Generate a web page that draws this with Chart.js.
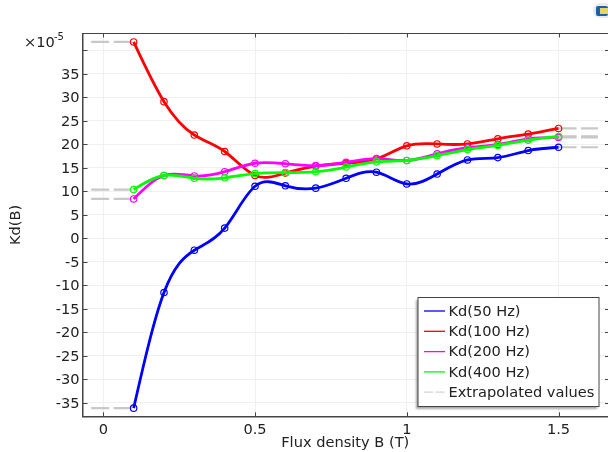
<!DOCTYPE html>
<html>
<head>
<meta charset="utf-8">
<title>Kd(B)</title>
<script src="https://cdn.jsdelivr.net/npm/chart.js@4"></script>
<style>
	html, body { margin: 0; padding: 0; background: #fff; overflow: hidden; }
	canvas { display: block; }
	#icone { position: absolute; left: 593px; top: 3px; width: 15px; height: 15px; border-radius: 8px 0 0 8px; background: #e8eaee; overflow: hidden; }
	#icone div { position: absolute; left: 3px; top: 3px; width: 12px; height: 10px; border-radius: 2px; background: #1f5fa8; }
	#icone span { position: absolute; left: 7px; top: 5px; width: 8px; height: 6px; background: #e8d36a; }
</style>
</head>
<body>
<canvas id="myChart" width="608" height="452"></canvas>
<div id="icone"><div></div><span></span></div>
<script>
const fluxB = [0.1, 0.2, 0.3, 0.4, 0.5, 0.6, 0.7, 0.8, 0.9, 1.0, 1.1, 1.2, 1.3, 1.4, 1.5];

const kd50 = [-36.1, -11.5, -2.5, 2.2, 11.1, 11.2, 10.7, 12.8, 14.1, 11.6, 13.7, 16.7, 17.2, 18.7, 19.4];
const kd100 = [41.8, 29.1, 22.0, 18.5, 13.4, 13.9, 15.4, 16.0, 16.9, 19.7, 20.1, 20.1, 21.2, 22.2, 23.4];
const kd200 = [8.4, 13.4, 13.3, 14.2, 16.0, 15.9, 15.5, 16.2, 17.0, 16.6, 18.0, 19.3, 20.0, 21.2, 21.5];
const kd400 = [10.4, 13.4, 12.8, 12.9, 13.8, 14.0, 14.2, 15.2, 16.3, 16.6, 17.6, 18.9, 19.8, 20.9, 21.7];

const nomes = ['Kd(50 Hz)', 'Kd(100 Hz)', 'Kd(200 Hz)', 'Kd(400 Hz)'];
const cores = ['#0000ff', '#ff0000', '#ff00ff', '#00ff00'];
const series = [kd50, kd100, kd200, kd400];

const extrapX = [-0.04, 0.1, 1.5, 1.63];
const nomeExtrap = 'Extrapolated values';

const xTicks = [0, 0.5, 1, 1.5];
const yTicks = [-35, -30, -25, -20, -15, -10, -5, 0, 5, 10, 15, 20, 25, 30, 35, 40];

const fonte = '"DejaVu Sans"';
const tamanhoFonte = 14.6;
const corTexto = '#222222';
const corEixo = '#444444';

let datasets = [];

series.forEach(function(valores, i) {
	datasets.push({
		label: nomes[i],
		data: fluxB.map(function(b, j) { return { x: b, y: valores[j] }; }),
		borderColor: cores[i],
		borderWidth: 2.8,
		tension: 0.4,
		pointRadius: 3.2,
		pointBorderWidth: 1.2,
		pointBackgroundColor: 'transparent',
		pointBorderColor: cores[i],
		order: 5 - i
	});

	// trechos extrapolados, um de cada lado
	let ultimo = valores.length - 1;
	[[extrapX[0], extrapX[1], valores[0]], [extrapX[2], extrapX[3], valores[ultimo]]].forEach(function(t) {
		datasets.push({
			label: nomeExtrap,
			data: [{ x: t[0], y: t[2] }, { x: t[1], y: t[2] }],
			borderColor: '#c8c8c8',
			borderWidth: 2.2,
			borderDash: [18, 4.5],
			pointRadius: 0,
			order: 6
		});
	});
});

// tangentes do spline cubico natural (pontos igualmente espacados)
function tangentes(v) {
	const n = v.length;
	let c = new Array(n), d = new Array(n), t = new Array(n);
	c[0] = 0.5;
	d[0] = 1.5 * (v[1] - v[0]);
	for (let i = 1; i < n; i++) {
		let fim = i === n - 1;
		let m = (fim ? 2 : 4) - c[i - 1];
		c[i] = 1 / m;
		d[i] = ((fim ? 3 * (v[i] - v[i - 1]) : 3 * (v[i + 1] - v[i - 1])) - d[i - 1]) / m;
	}
	t[n - 1] = d[n - 1];
	for (let i = n - 2; i >= 0; i--) {
		t[i] = d[i] - c[i] * t[i + 1];
	}
	return t;
}

// troca os pontos de controle do Chart.js pelos do spline
const splinePlugin = {
	id: 'spline',
	beforeDraw: function(chart) {
		// desce 1px os rotulos do eixo y
		chart.scales.y.getLabelItems(chart.chartArea).forEach(function(item) {
			item.options.translation[1] += 1;
		});
	},
	beforeDatasetsDraw: function(chart) {
		series.forEach(function(valores, i) {
			const meta = chart.getDatasetMeta(i * 3);
			meta.dataset.updateControlPoints(chart.chartArea, meta.indexAxis);
			const pts = meta.data;
			const h = (pts[1].x - pts[0].x) / 3;
			const t = tangentes(pts.map(function(p) { return p.y; }));
			pts.forEach(function(p, j) {
				p.cp1x = p.x - h;
				p.cp1y = p.y - t[j] / 3;
				p.cp2x = p.x + h;
				p.cp2y = p.y + t[j] / 3;
			});
		});
	}
};

// ticks para dentro, borda de cima e o fator de escala
const molduraPlugin = {
	id: 'moldura',
	afterDraw: function(chart) {
		const ctx = chart.ctx;
		const a = chart.chartArea;
		ctx.save();
		ctx.strokeStyle = corEixo;
		ctx.lineWidth = 1;
		ctx.beginPath();
		ctx.moveTo(a.left, a.top);
		ctx.lineTo(a.right, a.top);
		yTicks.forEach(function(v) {
			let y = Math.round(chart.scales.y.getPixelForValue(v)) + 0.5;
			ctx.moveTo(a.left, y);
			ctx.lineTo(a.left + 5, y);
			ctx.moveTo(a.right - 3, y);
			ctx.lineTo(a.right, y);
		});
		xTicks.forEach(function(v) {
			let x = Math.round(chart.scales.x.getPixelForValue(v)) + 0.5;
			ctx.moveTo(x, a.top);
			ctx.lineTo(x, a.top + 4);
			ctx.moveTo(x, a.bottom);
			ctx.lineTo(x, a.bottom - 4);
		});
		ctx.stroke();

		ctx.fillStyle = corTexto;
		ctx.textBaseline = 'middle';
		ctx.textAlign = 'left';
		ctx.font = tamanhoFonte + 'px ' + fonte;
		ctx.fillText('\u00d710', 24, 43);
		ctx.font = '10px ' + fonte;
		ctx.fillText('-5', 54, 37);
		ctx.restore();
	}
};

const legendaPlugin = {
	id: 'legenda',
	afterDraw: function(chart) {
		const ctx = chart.ctx;
		const caixa = { x: 418, y: 297.5, w: 181, h: 109 };
		ctx.save();
		ctx.shadowColor = 'rgba(0,0,0,0.35)';
		ctx.shadowOffsetX = -2;
		ctx.shadowOffsetY = 2;
		ctx.shadowBlur = 2;
		ctx.fillStyle = '#ffffff';
		ctx.fillRect(caixa.x, caixa.y, caixa.w, caixa.h);
		ctx.restore();

		ctx.save();
		ctx.strokeStyle = corEixo;
		ctx.lineWidth = 1;
		ctx.strokeRect(caixa.x, caixa.y, caixa.w, caixa.h);

		ctx.font = tamanhoFonte + 'px ' + fonte;
		ctx.textBaseline = 'middle';
		ctx.textAlign = 'left';
		nomes.concat([nomeExtrap]).forEach(function(nome, i) {
			let y = 311 + i * 20.3;
			ctx.beginPath();
			if (i < cores.length) {
				ctx.strokeStyle = cores[i];
				ctx.lineWidth = 1.3;
			} else {
				ctx.strokeStyle = '#d4d4d4';
				ctx.lineWidth = 1.3;
				ctx.setLineDash([9, 2.5]);
			}
			ctx.moveTo(424, y);
			ctx.lineTo(445, y);
			ctx.stroke();
			ctx.setLineDash([]);
			ctx.fillStyle = corTexto;
			ctx.fillText(nome, 448.5, y + 1);
		});
		ctx.restore();
	}
};

new Chart(document.getElementById('myChart').getContext('2d'), {
	type: 'line',
	data: { datasets: datasets },
	plugins: [splinePlugin, molduraPlugin, legendaPlugin],
	options: {
		responsive: false,
		animation: false,
		events: [],
		layout: { autoPadding: false, padding: { top: 33.5, left: 0, right: 0, bottom: 0 } },
		plugins: {
			legend: { display: false },
			tooltip: { enabled: false }
		},
		scales: {
			x: {
				type: 'linear',
				min: -0.0685,
				max: 1.663,
				afterBuildTicks: function(scale) {
					scale.ticks = xTicks.map(function(v) { return { value: v }; });
				},
				afterFit: function(scale) {
					scale.height = 35.7;
					scale.paddingLeft = 0;
					scale.paddingRight = 0;
				},
				ticks: {
					maxRotation: 0,
					autoSkip: false,
					padding: 5,
					color: corTexto,
					font: { family: fonte, size: tamanhoFonte },
					callback: function(v) { return String(v); }
				},
				grid: { color: '#f0f0f0', drawTicks: false, tickLength: 0 },
				border: { color: corEixo, width: 1.5 },
				title: {
					display: true,
					text: 'Flux density B (T)',
					color: corTexto,
					padding: { top: 0, bottom: 0 },
					font: { family: fonte, size: tamanhoFonte }
				}
			},
			y: {
				type: 'linear',
				min: -37.83,
				max: 43.6,
				afterBuildTicks: function(scale) {
					scale.ticks = yTicks.map(function(v) { return { value: v }; });
				},
				afterFit: function(scale) {
					scale.width = 82.5;
					scale.paddingTop = 0;
					scale.paddingBottom = 0;
				},
				ticks: {
					autoSkip: false,
					padding: 3,
					color: corTexto,
					font: { family: fonte, size: tamanhoFonte },
					callback: function(v) { return v === 40 ? '' : String(v); }
				},
				grid: { color: '#f0f0f0', drawTicks: false, tickLength: 0 },
				border: { color: corEixo, width: 1.5 },
				title: {
					display: true,
					text: 'Kd(B)',
					color: corTexto,
					padding: { top: 7, bottom: 0 },
					font: { family: fonte, size: tamanhoFonte }
				}
			}
		}
	}
});
</script>
</body>
</html>
